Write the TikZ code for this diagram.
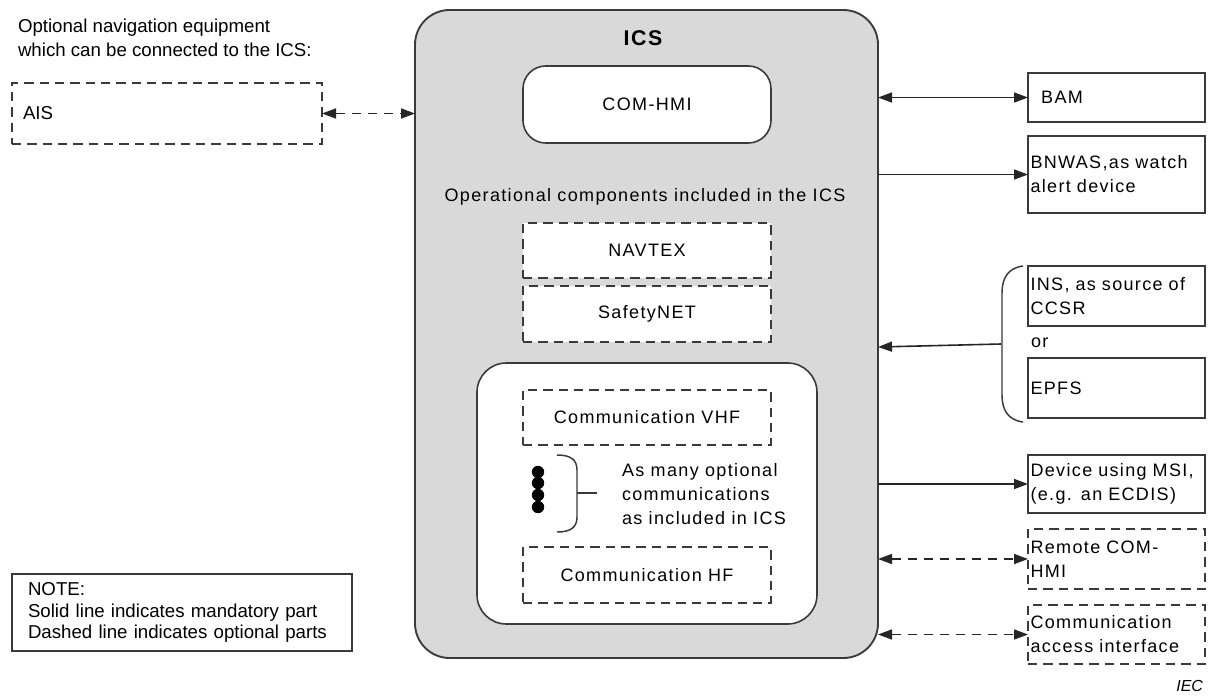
\documentclass[tikz,border=0pt]{standalone}
\usepackage{fontspec}
\setmainfont{Liberation Sans}
\newfontfamily\spaced[LetterSpace=7.5]{Liberation Sans}
\usetikzlibrary{arrows.meta}
\definecolor{icsgray}{HTML}{D9D9D9}
\definecolor{edge}{HTML}{3A3A3A}

\begin{document}
\begin{tikzpicture}[x=0.75pt,y=-0.75pt,
  every node/.style={inner sep=0pt, outer sep=0pt},
  % a node filling the rectangle x1/y1/x2/y2 (in picture units)
  area/.style args={#1/#2/#3/#4}{
    minimum width={(#3-#1)*0.75pt}, minimum height={(#4-#2)*0.75pt},
    at={({(#1+#3)/2},{(#2+#4)/2})}},
  plain/.style={font=\fontsize{14}{18}\selectfont},
  diag/.style={font=\spaced\fontsize{13.5}{18}\selectfont},
  box/.style={draw=edge, line width=1.2pt, fill=white},
  optbox/.style={box, dash pattern=on 7pt off 4.5pt},
  link/.style={draw=black!85, line width=1.2pt},
  tip/.style={-{Triangle[length=10.5pt,width=7.5pt]}},
  bitip/.style={{Triangle[length=10.5pt,width=7.5pt]}-{Triangle[length=10.5pt,width=7.5pt]}},
  optlink/.style={link, dash pattern=on 7pt off 5pt},
  side/.style={diag, text width=129pt, align=left},
]
% canvas
\fill[white] (0,0) rectangle (1210,697);
\useasboundingbox (0,0) rectangle (1210,697);

% optional equipment on the left
\node[plain, anchor=west, align=left] (hdr) at (18,38)
  {Optional navigation equipment\\which can be connected to the ICS:};
\node[optbox, area=12/83/322/144, plain, text width=216pt, align=left] (ais) {AIS};

% the ICS itself
\node[area=415/10/878/658, draw=edge, line width=1.4pt, fill=icsgray, rounded corners=26pt] (ics) {};
\node[font=\spaced\bfseries\fontsize{16}{19}\selectfont] (icstitle) at (643,38) {ICS};
\node[box, rounded corners=17pt, area=523/66/771/143, diag] (comhmi) {COM-HMI};
\node[diag] (opcomp) at (645,197) {Operational components included in the ICS};
\node[optbox, area=523/223/771/278, diag] (navtex) {NAVTEX};
\node[optbox, area=523/286/771/342, diag] (safetynet) {SafetyNET};

% communication group
\node[box, rounded corners=22pt, area=477/363/817/624] (comms) {};
\node[optbox, area=523/390/771/445, diag] (vhf) {Communication VHF};
\node[optbox, area=523/547/771/603, diag] (hf) {Communication HF};
\foreach \y/\n in {472/1,483/2,495/3,507/4}
  \node[circle, fill=black, minimum size=9.3pt] (dot\n) at (538,\y) {};
\draw[edge, line width=1.1pt] (557,455) .. controls (571,455) and (577,460) .. (577,470)
  -- (577,517) .. controls (577,527) and (571,532) .. (557,532);
\coordinate (brk) at (577,493);
\coordinate (brktick) at (597,493);
\draw[edge, line width=1.1pt] (brk) -- (brktick);
\node[diag, anchor=west, align=left] (many) at (622,494)
  {As many optional\\communications\\as included in ICS};

% connected equipment on the right
\node[box, area=1028/73/1205/122, side] (bam) {\hspace*{8pt}BAM};
\node[box, area=1028/136/1205/213, side] (bnwas) {BNWAS,as watch\\alert device};
\node[box, area=1028/266/1205/326, side] (ins) {INS, as source of\\CCSR};
\node[diag, anchor=west] (or) at (1031,343) {or};
\node[box, area=1028/358/1205/418, side] (epfs) {EPFS};
\node[box, area=1028/455/1205/513, side] (msi) {Device using MSI,\\(e.g. an ECDIS)};
\node[optbox, area=1028/529/1205/589, side] (remote) {Remote COM-\\HMI};
\node[optbox, area=1028/605/1205/664, side] (access) {Communication\\access interface};

% brace grouping INS / EPFS
\draw[edge, line width=1.1pt] (1023,266) .. controls (1008,268) and (1002,278) .. (1002,293)
  -- (1002,395) .. controls (1002,410) and (1008,420) .. (1023,422);
\coordinate (bracemid) at (1001,344);
\coordinate (insin) at (ics.east |- 0,347);

% connectors
\draw[optlink, bitip] (ais.east) -- (ais.east -| ics.west);
\draw[link, bitip] (bam.west -| ics.east) -- (bam.west);
\draw[link, tip] (bnwas.west -| ics.east) -- (bnwas.west);
\draw[link, tip] (bracemid) -- (insin);
\draw[link, tip] (msi.west -| ics.east) -- (msi.west);
\draw[optlink, bitip] (remote.west -| ics.east) -- (remote.west);
\draw[optlink, bitip] (access.west -| ics.east) -- (access.west);

% legend
\node[box, area=12/574/352/651, text width=231pt, align=left,
  font=\fontsize{14}{16}\selectfont] (note)
  {NOTE:\\Solid line indicates mandatory part\\Dashed line indicates optional parts};

\node[anchor=east, font=\itshape\fontsize{12}{14}\selectfont] (iec) at (1203,686) {IEC};
\end{tikzpicture}
\end{document}
